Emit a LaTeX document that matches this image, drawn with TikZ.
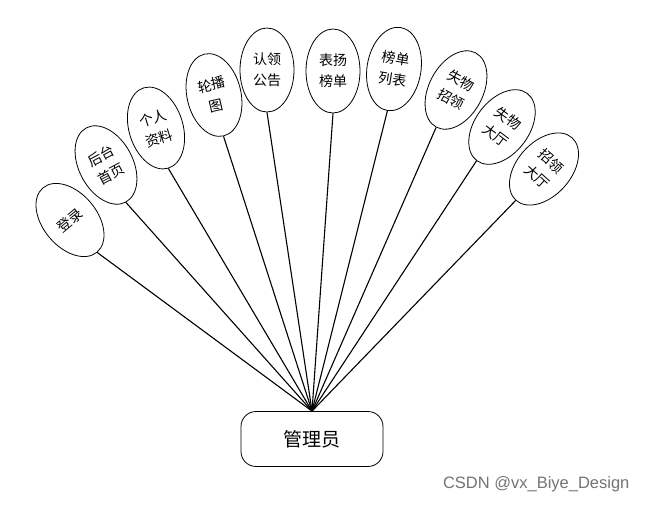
\documentclass[tikz,border=0pt]{standalone}
\usepackage{fontspec}
\newfontfamily\cjk{Noto Sans CJK SC}
\setsansfont{Liberation Sans}
\usetikzlibrary{shapes.geometric}
\begin{document}
\begin{tikzpicture}[x=1pt,y=-1pt,
  ell/.style={draw, ellipse, minimum width=54pt, minimum height=84pt, inner sep=0pt,
    font=\cjk\fontsize{14}{21}\selectfont, align=center, line width=0.8pt},
  link/.style={line width=1.1pt},
  mainbox/.style={draw, rounded corners=15pt, minimum width=142pt, minimum height=55pt,
    line width=0.8pt, font=\cjk\fontsize{19}{21}\selectfont}]
\useasboundingbox (0,0) rectangle (646,504);
\node[mainbox] (m) at (312,439) {管理员};
\node[ell, rotate=40] (e1) at (70,220) {登录};
\node[ell, rotate=28] (e2) at (106,165) {后台\\首页};
\node[ell, rotate=17] (e3) at (156,128) {个人\\资料};
\node[ell, rotate=13] (e4) at (214,95) {轮播\\图};
\node[ell] (e5) at (267,70) {认领\\公告};
\node[ell] (e6) at (333,71) {表扬\\榜单};
\node[ell, rotate=-9] (e7) at (394,69) {榜单\\列表};
\node[ell, rotate=-28] (e8) at (456,90) {失物\\招领};
\node[ell, rotate=-37] (e9) at (502,127) {失物\\大厅};
\node[ell, rotate=-42] (e10) at (544,169) {招领\\大厅};
\foreach \i in {1,...,10} \draw[link] (e\i.south) -- (m.north);
\node[font=\sffamily\fontsize{16.5}{16.5}\selectfont, text=black!55, anchor=east] (wm) at (633,484) {CSDN @vx\_Biye\_Design};
\end{tikzpicture}
\end{document}
